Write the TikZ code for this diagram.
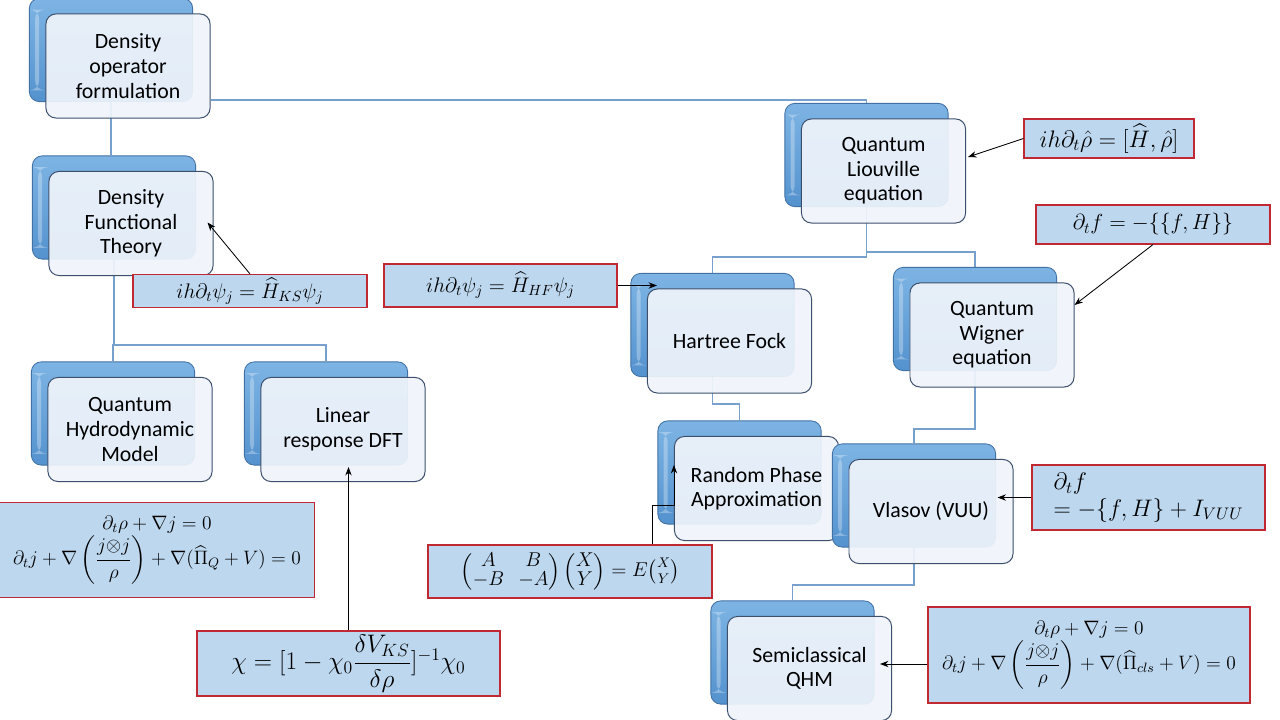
\RequirePackage{fix-cm}
\documentclass[tikz,border=0pt]{standalone}
\usepackage{amsmath}
\usepackage[no-math]{fontspec}
\setmainfont{Carlito}
\usetikzlibrary{arrows.meta,calc}
\definecolor{backtop}{RGB}{125,180,228}
\definecolor{backbot}{RGB}{84,146,206}
\definecolor{backedge}{RGB}{65,113,165}
\definecolor{frontfill}{RGB}{240,245,251}
\definecolor{frontedge}{RGB}{60,80,110}
\definecolor{connc}{RGB}{120,160,205}
\definecolor{eqfill}{RGB}{189,215,238}
\definecolor{eqedge}{RGB}{192,40,50}
\pgfdeclarelayer{bg}
\pgfsetlayers{bg,main}
\tikzset{
  backbox/.style={rounded corners=7pt, minimum width=4.08cm, minimum height=2.58cm,
    draw=backedge, line width=0.6pt, top color=backtop, bottom color=backbot,
    path picture={\fill[white,opacity=0.3]
      ([xshift=4pt,yshift=-8pt]path picture bounding box.north west) rectangle
      ([xshift=7pt,yshift=8pt]path picture bounding box.south west);}},
  frontbox/.style={rounded corners=7pt, minimum width=4.1cm, minimum height=2.6cm,
    draw=frontedge, line width=0.7pt, fill=frontfill, fill opacity=0.92, text opacity=1,
    align=center, font=\fontsize{15.5}{17.5}\selectfont},
  eqbox/.style={draw=eqedge, fill=eqfill, line width=0.8pt, inner sep=2pt,
    align=center, font=\fontsize{14.4}{18}\selectfont},
  conn/.style={draw=connc, line width=0.9pt},
  arr/.style={-{Stealth[length=6pt,width=4.5pt]}, black, line width=0.6pt},
}
\newcommand{\tnode}[4]{%
  \node[backbox] (#1B) at ({#2-17},{#3-16}) {};
  \node[frontbox] (#1F) at (#2,#3) {#4};}
\begin{document}
\begin{tikzpicture}[x=0.025cm,y=-0.025cm]
\useasboundingbox (0,0) rectangle (1280,720);

% tree nodes
\tnode{dof}{128}{66}{Density\\operator\\formulation}
\tnode{dft}{131}{223.5}{Density\\Functional\\Theory}
\tnode{liou}{883.5}{171}{Quantum\\Liouville\\equation}
\tnode{hf}{729.5}{341}{Hartree Fock}
\tnode{wig}{992}{335}{Quantum\\Wigner\\equation}
\tnode{qhm}{130}{429.5}{Quantum\\Hydrodynamic\\Model}
\tnode{lr}{343}{429.5}{Linear\\response DFT}
\tnode{rpa}{756.5}{488.5}{Random Phase\\Approximation}
\tnode{vla}{931}{511.5}{Vlasov (VUU)}
\tnode{semi}{809.5}{668.5}{Semiclassical\\QHM}

% equation boxes
\node[eqbox, font=\fontsize{17}{20}\selectfont, minimum width=4.25cm, minimum height=0.975cm] (liouEq) at (1109,138.5)
  {$ih\partial_t\hat{\rho} = [\widehat{H},\hat{\rho}]$};
\node[eqbox, font=\fontsize{15.5}{18}\selectfont, minimum width=5.85cm, minimum height=0.975cm] (wigEq) at (1153,224.5)
  {$\partial_t f = -\{\{f,H\}\}$};
\node[eqbox, font=\fontsize{15}{18}\selectfont, minimum width=5.85cm, minimum height=0.825cm] (ksEq) at (250,291)
  {$ih\partial_t\psi_j = \widehat{H}_{KS}\psi_j$};
\node[eqbox, font=\fontsize{15}{18}\selectfont, minimum width=5.825cm, minimum height=1.075cm] (hfEq) at (500.5,285.5)
  {$ih\partial_t\psi_j = \widehat{H}_{HF}\psi_j$};
\node[eqbox, font=\fontsize{13.8}{16}\selectfont, minimum width=7.875cm, minimum height=2.375cm] (qhmEq) at (157,550)
  {$\partial_t\rho + \nabla j = 0$\\[1pt]
   $\partial_t j + \nabla\left(\dfrac{j{\otimes}j}{\rho}\right) + \nabla(\widehat{\Pi}_Q + V) = 0$};
\node[eqbox, font=\fontsize{18}{21}\selectfont, minimum width=7.575cm, minimum height=1.625cm] (chiEq) at (348.5,663.5)
  {$\chi = [1-\chi_0\dfrac{\delta V_{KS}}{\delta\rho}]^{-1}\chi_0$};
\node[eqbox, font=\fontsize{14.2}{16}\selectfont, minimum width=7.1cm, minimum height=1.325cm] (rpaEq) at (570,571.5)
  {\renewcommand{\arraystretch}{0.8}$\begin{pmatrix}A & B\\ -B & -A\end{pmatrix}\begin{pmatrix}X\\ Y\end{pmatrix} = E\binom{X}{Y}$};
\node[eqbox, font=\fontsize{17}{19}\selectfont, minimum width=5.825cm, minimum height=1.625cm, align=left] (vlaEq) at (1148.5,497.5)
  {$\partial_t f$\\ $= -\{f,H\} + I_{VUU}$};
\node[eqbox, font=\fontsize{13.8}{16}\selectfont, minimum width=8.05cm, minimum height=2.4cm] (semiEq) at (1089,655)
  {$\partial_t\rho + \nabla j = 0$\\[1pt]
   $\partial_t j + \nabla\left(\dfrac{j{\otimes}j}{\rho}\right) + \nabla(\widehat{\Pi}_{cls} + V) = 0$};

% helper levels for connectors
\coordinate (y100) at (0,100);
\coordinate (y345) at (0,345);
\coordinate (y257) at (0,257);
\coordinate (y252) at (0,252);
\coordinate (y404) at (0,404);
\coordinate (y429) at (0,429);
\coordinate (y585) at (0,585);

\begin{pgfonlayer}{bg}
\fill[white] (0,0) rectangle (1280,720);
\draw[conn] (dofF.east |- y100) -| (liouB.north);
\draw[conn] (dofB.south) -- (dofB.south |- dftB.north);
\draw[conn] (dftB.south) -- (dftB.south |- y345) -| (lrB.north);
\draw[conn] (dftB.south |- y345) -| (qhmB.north);
\draw[conn] (liouB.south) -- (liouB.south |- y257) -| (hfB.north);
\draw[conn] (liouB.south |- y252) -| (wigB.north);
\draw[conn] (hfB.south) -- (hfB.south |- y404) -| (rpaB.north);
\draw[conn] (wigB.south) -- (wigB.south |- y429) -| (vlaB.north);
\draw[conn] (vlaB.south) -- (vlaB.south |- y585) -| (semiB.north);
\end{pgfonlayer}

% arrows from equations
\draw[arr] (liouEq.west) -- ($(liouF.east)+(2,-14)$);
\draw[arr] (wigEq.south) -- ($(wigF.east)+(0,-30)$);
\draw[arr] (ksEq.north) -- ($(dftF.east)+(-6,-1)$);
\draw[arr] (hfEq.east) -- ($(hfEq.east -| hfF.west)+(10,0)$);
\draw[arr] (chiEq.north) -- ($(chiEq.north |- lrF.south)+(0,-15)$);
\draw[arr] ($(rpaEq.north east)+(-60,0)$) |- ($(rpaF.west)+(0,16.5)$) -- ($(rpaF.west)+(0,-23.5)$);
\draw[arr] (vlaEq.west) -- ($(vlaEq.west -| vlaF.east)+(-16,0)$);
\draw[arr] ($(semiEq.west)+(0,9)$) -- ($(semiEq.west -| semiF.east)+(-12,9)$);
\end{tikzpicture}
\end{document}
